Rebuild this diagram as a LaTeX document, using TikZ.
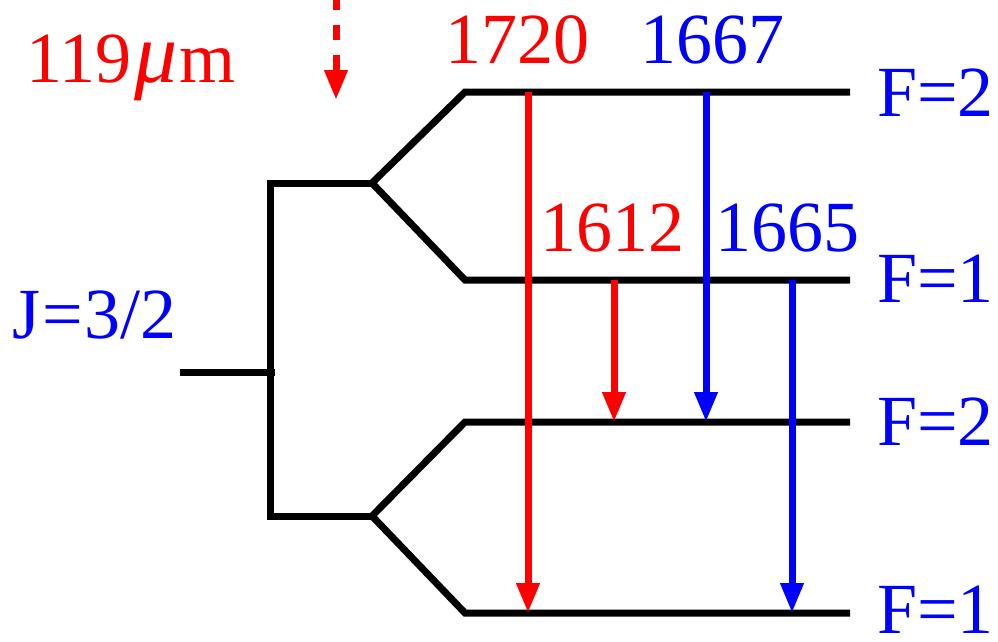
\documentclass[tikz,border=0pt]{standalone}
\usepackage{fontspec}
\setmainfont{Liberation Serif}
\usetikzlibrary{arrows.meta}
\definecolor{myred}{RGB}{255,0,0}
\definecolor{myblue}{RGB}{0,0,255}
\begin{document}
\begin{tikzpicture}[x=1pt,y=-1pt,
  lvl/.style={line width=7pt,black},
  trans/.style={line width=7pt,-{Triangle[width=22pt,length=30pt]}},
  lab/.style={inner sep=0pt,font=\fontsize{72}{72}\selectfont},
  redlab/.style={lab,text=myred},
  bluelab/.style={lab,text=myblue}]
\useasboundingbox (0,0) rectangle (998,641);
% coordinates
\coordinate (stubL) at (180,372);
\coordinate (stubR) at (275,372);
\coordinate (vT) at (270,180);
\coordinate (vB) at (270,520);
\coordinate (uL) at (267,183);
\coordinate (uM) at (372,183);
\coordinate (dL) at (267,516);
\coordinate (dM) at (372,516);
\coordinate (l1a) at (465,92);  \coordinate (l1b) at (850,92);
\coordinate (l2a) at (465,280); \coordinate (l2b) at (850,280);
\coordinate (l3a) at (465,422); \coordinate (l3b) at (850,422);
\coordinate (l4a) at (465,613); \coordinate (l4b) at (850,613);
% tree
\draw[lvl] (stubL) -- (stubR);
\draw[lvl] (vT) -- (vB);
\draw[lvl] (uL) -- (uM);
\draw[lvl] (dL) -- (dM);
\draw[lvl] (l1b) -- (l1a) -- (uM) -- (l2a) -- (l2b);
\draw[lvl] (l3b) -- (l3a) -- (dM) -- (l4a) -- (l4b);
% transitions
\coordinate (r1s) at (528,92);  \coordinate (r1e) at (528,613);
\coordinate (b1s) at (706,92);  \coordinate (b1e) at (706,422);
\coordinate (r2s) at (614,280); \coordinate (r2e) at (614,422);
\coordinate (b2s) at (792,280); \coordinate (b2e) at (792,613);
\draw[trans,myred] (r1s) -- (r1e);
\draw[trans,myblue] (b1s) -- (b1e);
\draw[trans,myred] (r2s) -- (r2e);
\draw[trans,myblue] (b2s) -- (b2e);
% dashed arrow
\coordinate (dS) at (336,0);
\coordinate (dE) at (336,100);
\draw[myred,line width=7pt,dash pattern=on 15pt off 15pt,dash phase=5pt,-{Triangle[width=22pt,length=30pt]}] (dS) -- (dE);
% labels
\node[redlab,anchor=base west] (mu) at (26,82) {119\kern3pt{\fontsize{86}{86}\selectfont\textit{μ}}\kern2pt m};
\node[redlab,anchor=base] (t1720) at (517,63) {1720};
\node[bluelab,anchor=base] (t1667) at (712,63) {1667};
\node[redlab,anchor=base] (t1612) at (612,251) {1612};
\node[bluelab,anchor=base] (t1665) at (787,251) {1665};
\node[bluelab,anchor=base west] (J) at (12,338) {J\kern2pt=\kern2pt3/2};
\node[bluelab,anchor=base west] (F1) at (877,116) {F=2};
\node[bluelab,anchor=base west] (F2) at (877,302) {F=1};
\node[bluelab,anchor=base west] (F3) at (877,445) {F=2};
\node[bluelab,anchor=base west] (F4) at (877,633) {F=1};
\end{tikzpicture}
\end{document}
